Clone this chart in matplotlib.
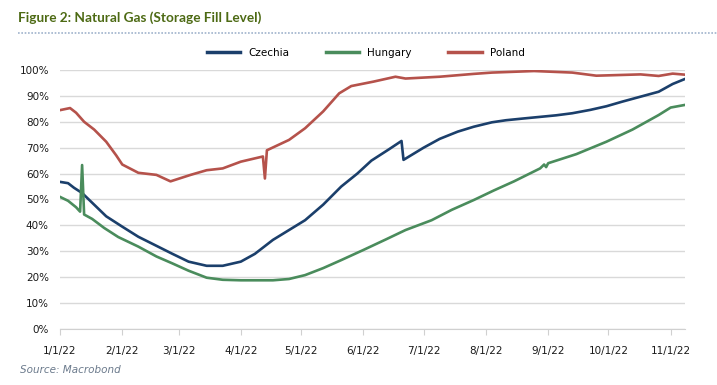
import pandas as pd
import matplotlib.pyplot as plt
import matplotlib.dates as mdates
from matplotlib.lines import Line2D
from matplotlib.ticker import FuncFormatter

# Storage fill level (%)
cz_dates = ["2022-01-01", "2022-01-05", "2022-01-08", "2022-01-12", "2022-01-16", "2022-01-20",
            "2022-01-24", "2022-01-28", "2022-02-01", "2022-02-09", "2022-02-17", "2022-02-26",
            "2022-03-06", "2022-03-15", "2022-03-23", "2022-04-01", "2022-04-08", "2022-04-17",
            "2022-04-25", "2022-05-03", "2022-05-12", "2022-05-21", "2022-05-29", "2022-06-05",
            "2022-06-14", "2022-06-20", "2022-06-21", "2022-07-01", "2022-07-09", "2022-07-18",
            "2022-07-26", "2022-08-04", "2022-08-11", "2022-08-20", "2022-08-28", "2022-09-05",
            "2022-09-13", "2022-09-22", "2022-09-30", "2022-10-08", "2022-10-17", "2022-10-26",
            "2022-11-02", "2022-11-08"]
cz_vals = [56.8, 56.3, 54.5, 52.5, 49.5, 46.5,
           43.5, 41.5, 39.5, 35.6, 32.5, 29.0,
           26.0, 24.4, 24.4, 26.0, 29.0, 34.4,
           38.2, 42.0, 48.0, 55.0, 60.0, 65.0,
           69.5, 72.6, 65.3, 70.0, 73.4, 76.2,
           78.1, 79.8, 80.6, 81.3, 81.9, 82.5,
           83.3, 84.6, 86.0, 87.8, 89.7, 91.6,
           94.6, 96.5]

hu_dates = ["2022-01-01", "2022-01-05", "2022-01-09", "2022-01-11", "2022-01-12", "2022-01-13",
            "2022-01-17", "2022-01-23", "2022-01-30", "2022-02-09", "2022-02-18", "2022-02-26",
            "2022-03-06", "2022-03-15", "2022-03-23", "2022-04-01", "2022-04-17", "2022-04-25",
            "2022-05-03", "2022-05-12", "2022-05-21", "2022-06-01", "2022-06-12", "2022-06-22",
            "2022-07-05", "2022-07-15", "2022-07-26", "2022-08-05", "2022-08-15", "2022-08-28",
            "2022-08-30", "2022-08-31", "2022-09-01", "2022-09-15", "2022-09-30", "2022-10-13",
            "2022-10-26", "2022-11-01", "2022-11-08"]
hu_vals = [51.0, 49.5, 47.0, 45.3, 63.3, 44.2,
           42.5, 39.0, 35.5, 31.8, 28.0, 25.3,
           22.5, 19.8, 19.0, 18.8, 18.8, 19.3,
           20.8, 23.5, 26.6, 30.5, 34.5, 38.2,
           42.0, 46.0, 49.8, 53.5, 57.0, 62.0,
           63.5, 62.5, 64.0, 67.5, 72.3, 77.0,
           82.6, 85.5, 86.5]

pl_dates = ["2022-01-01", "2022-01-06", "2022-01-09", "2022-01-13", "2022-01-18", "2022-01-24",
            "2022-01-29", "2022-02-01", "2022-02-09", "2022-02-18", "2022-02-25", "2022-03-01",
            "2022-03-07", "2022-03-15", "2022-03-23", "2022-04-01", "2022-04-12", "2022-04-13",
            "2022-04-14", "2022-04-25", "2022-05-03", "2022-05-12", "2022-05-20", "2022-05-26",
            "2022-06-06", "2022-06-17", "2022-06-22", "2022-07-09", "2022-07-26", "2022-08-04",
            "2022-08-25", "2022-09-13", "2022-09-25", "2022-10-17", "2022-10-26", "2022-11-02",
            "2022-11-08"]
pl_vals = [84.5, 85.3, 83.5, 80.0, 77.0, 72.3,
           67.0, 63.5, 60.3, 59.5, 57.0, 58.0,
           59.5, 61.3, 62.0, 64.6, 66.6, 58.1,
           69.0, 73.0, 77.5, 84.0, 91.0, 93.8,
           95.5, 97.4, 96.7, 97.4, 98.5, 99.0,
           99.6, 99.0, 97.8, 98.3, 97.7, 98.6,
           98.2]

series = [("Czechia", cz_dates, cz_vals, "#1b3f6b"),
          ("Hungary", hu_dates, hu_vals, "#4a8c5c"),
          ("Poland", pl_dates, pl_vals, "#b5524b")]

fig = plt.figure(figsize=(7.17, 3.85), dpi=100)
ax = fig.add_axes([0.0837, 0.1455, 0.8713, 0.6727])

for name, d, v, c in series:
    ax.plot(pd.to_datetime(d), v, color=c, lw=1.9, solid_joinstyle="round")

ax.set_ylim(0, 100)
ax.set_yticks(range(0, 101, 10))
ax.yaxis.set_major_formatter(FuncFormatter(lambda y, _: f"{int(y)}%"))
ax.set_xlim(pd.Timestamp("2022-01-01"), pd.Timestamp("2022-11-08"))
ax.xaxis.set_major_locator(mdates.MonthLocator())
ax.xaxis.set_major_formatter(FuncFormatter(
    lambda x, _: f"{mdates.num2date(x).month}/1/22"))

ax.grid(axis="y", color="#d9d9d9", lw=1)
ax.set_axisbelow(True)
for s in ["left", "right", "top"]:
    ax.spines[s].set_visible(False)
ax.spines["bottom"].set_color("#d0d0d0")
ax.tick_params(axis="y", length=0, pad=8, labelsize=7.5, labelcolor="#1a1a1a")
ax.tick_params(axis="x", length=4, color="#d0d0d0", pad=8, labelsize=7.5, labelcolor="#1a1a1a")

handles = [Line2D([0], [0], color=c, lw=2.5) for _, _, _, c in series]
fig.legend(handles, [s[0] for s in series], loc="center", bbox_to_anchor=(0.51, 0.862),
           ncol=3, frameon=False, fontsize=7.5, handlelength=3.2, columnspacing=3.5)

fig.text(0.025, 0.953, "Figure 2: Natural Gas (Storage Fill Level)", fontsize=9.8,
         fontweight="bold", color="#4d6a14", va="center", family="Lato")
fig.add_artist(Line2D([0.025, 1.0], [0.915, 0.915], transform=fig.transFigure,
                      color="#9fb3cc", lw=1.2, ls=(0, (1, 1))))
fig.text(0.028, 0.04, "Source: Macrobond", fontsize=7.5, style="italic",
         color="#6b7a8c", va="center")

fig.savefig("out.png", dpi=100)
